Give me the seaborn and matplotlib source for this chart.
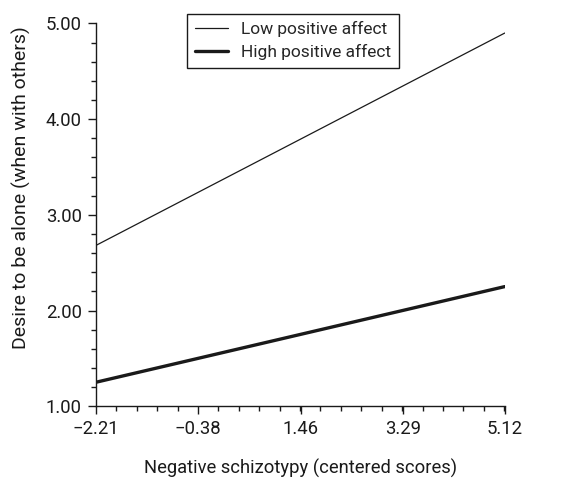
import pandas as pd
import matplotlib.pyplot as plt
import seaborn as sns
from matplotlib.ticker import AutoMinorLocator, FixedLocator

# datos de la figura
x_ticks = [-2.21, -0.38, 1.46, 3.29, 5.12]
x_puntos = [-2.21, 5.12]
bajo_afecto = [2.68, 4.90]
alto_afecto = [1.25, 2.25]
y_ticks = [1.00, 2.00, 3.00, 4.00, 5.00]

df = pd.DataFrame({
    'x': x_puntos * 2,
    'y': bajo_afecto + alto_afecto,
    'grupo': ['Low positive affect'] * 2 + ['High positive affect'] * 2,
})

sns.set_style('ticks')
plt.rcParams['font.family'] = ['Roboto', 'DejaVu Sans']
plt.rcParams['font.size'] = 13
plt.rcParams['axes.linewidth'] = 1.0
plt.rcParams['axes.unicode_minus'] = True

fig = plt.figure(figsize=(5.64, 4.79), dpi=100)
ax = fig.add_axes([0.170, 0.152, 0.725, 0.799])

sns.lineplot(data=df[df['grupo'] == 'Low positive affect'], x='x', y='y',
             color='#1a1a1a', linewidth=0.9, label='Low positive affect', ax=ax)
sns.lineplot(data=df[df['grupo'] == 'High positive affect'], x='x', y='y',
             color='#1a1a1a', linewidth=2.4, label='High positive affect', ax=ax)

ax.set_xlim(-2.21, 5.12)
ax.set_ylim(1.0, 5.0)
ax.xaxis.set_major_locator(FixedLocator(x_ticks))
ax.set_xticklabels([f"{v:.2f}".replace('-', '\u2212') for v in x_ticks])
ax.yaxis.set_major_locator(FixedLocator(y_ticks))
ax.set_yticklabels([f"{v:.2f}" for v in y_ticks])
ax.xaxis.set_minor_locator(AutoMinorLocator(5))
ax.yaxis.set_minor_locator(AutoMinorLocator(5))
ax.tick_params(axis='both', which='major', direction='out', length=6, width=1.0,
               colors='#1a1a1a', labelsize=13.3, pad=4)
ax.tick_params(axis='both', which='minor', direction='out', length=3.5, width=1.0,
               colors='#1a1a1a')
for s in ['top', 'right']:
    ax.spines[s].set_visible(False)
for s in ['left', 'bottom']:
    ax.spines[s].set_color('#1a1a1a')

ax.set_xlabel('Negative schizotypy (centered scores)', fontsize=13.2, labelpad=15,
              color='#1a1a1a')
ax.set_ylabel('Desire to be alone (when with others)', fontsize=14.0,
              color='#1a1a1a')
# la etiqueta del eje y va algo más arriba que el centro
ax.yaxis.set_label_coords(-0.158, 0.572)

leg = ax.legend(loc='upper left', bbox_to_anchor=(0.223, 1.026), frameon=True,
                fancybox=False, edgecolor='#1a1a1a', framealpha=1, fontsize=12.5,
                handlelength=1.9, borderpad=0.45, labelspacing=0.38,
                handletextpad=0.75, borderaxespad=0)
leg.get_frame().set_linewidth(1.0)

plt.savefig('out.png', dpi=100)
plt.close()
